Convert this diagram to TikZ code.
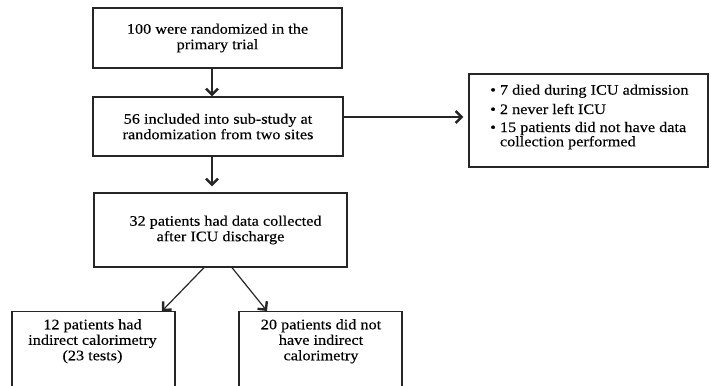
\documentclass[tikz,border=0pt]{standalone}
\usepackage{fontspec}
\setmainfont[FakeStretch=1.12,FakeBold=0.3]{Liberation Serif}
\usetikzlibrary{arrows.meta}
\begin{document}
\begin{tikzpicture}[x=1pt,y=-1pt,
  box/.style={draw=black!85,line width=1.3pt,fill=white,inner sep=0pt,align=center,
    font=\fontsize{14.5}{15.5}\selectfont},
  txt/.style={font=\fontsize{14.5}{15.5}\selectfont,align=center,anchor=north,inner sep=0pt},
  arr/.style={draw=black!85,line width=1.2pt,-{Straight Barb[length=6pt,width=12pt,line width=2.4pt]}}]
\useasboundingbox (0,0) rectangle (711,385);
\clip (0,0) rectangle (711,385);
\node[box,minimum width=249pt,minimum height=60pt] (b1) at (217.5,38) {100 were randomized in the\\primary trial};
\node[box,minimum width=250pt,minimum height=59pt] (b2) at (218,126.5) {56 included into sub-study at\\randomization from two sites};
\node[box,minimum width=253pt,minimum height=74pt] (b3) at (220.5,230) {\raisebox{2pt}{\hspace{10pt}32 patients had data collected}\\\raisebox{2pt}{after ICU discharge}};
\node[box,minimum width=163pt,minimum height=98pt,anchor=north] (b4) at (93.5,311) {};
\node[box,minimum width=163pt,minimum height=98pt,anchor=north] (b5) at (320.5,311) {};
\node[txt] (t4) at (92.5,319) {12 patients had\\indirect calorimetry\\(23 tests)};
\node[txt] (t5) at (321,319) {20 patients did not\\have indirect\\calorimetry};
\node[box,minimum width=239pt,minimum height=93pt] (r) at (588.5,120.5) {};
\node[font=\fontsize{14.5}{13}\selectfont,align=left,anchor=west,inner sep=0pt] (rt) at (490,117)
  {\textbullet\ 7 died during ICU admission\\[5pt]\textbullet\ 2 never left ICU\\[5pt]\textbullet\ 15 patients did not have data\\\hphantom{\textbullet\ }collection performed};
\coordinate (ax) at (212,0);
\coordinate (ay) at (0,117);
\draw[arr] (b1.south -| ax) -- (b2.north -| ax);
\draw[arr,shorten >=6pt] (b2.south -| ax) -- (b3.north -| ax);
\draw[arr,shorten >=5pt] (b2.east |- ay) -- (r.west |- ay);
\draw[arr] ([xshift=-16.5pt]b3.south) -- ([xshift=68.5pt]b4.north);
\draw[arr] ([xshift=11.5pt]b3.south) -- ([xshift=-53.5pt]b5.north);
\end{tikzpicture}
\end{document}
